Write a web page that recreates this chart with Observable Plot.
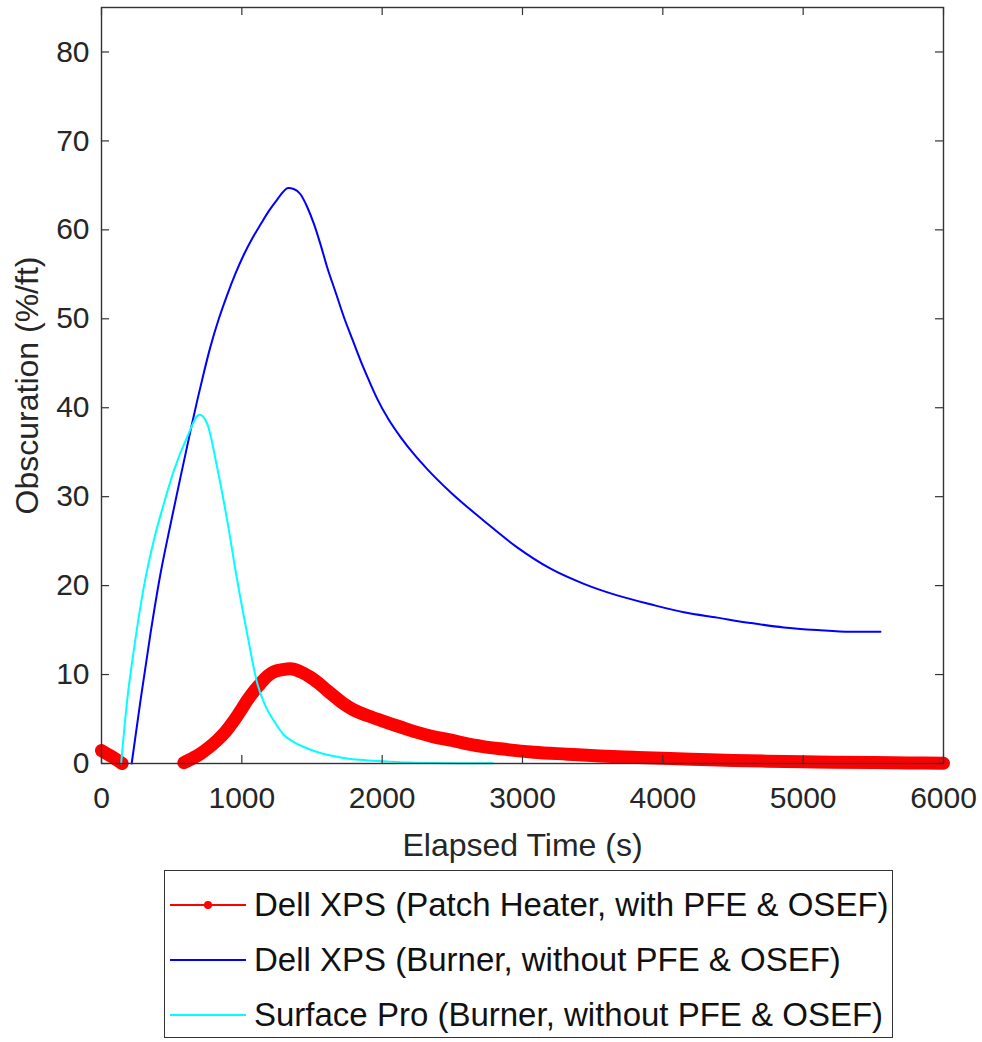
<!DOCTYPE html>
<html>
<head>
<meta charset="utf-8">
<script src="https://cdn.jsdelivr.net/npm/d3@7"></script>
<script src="https://cdn.jsdelivr.net/npm/@observablehq/plot@0.6"></script>
<style>
  body { margin: 0; background: #fff; font-family: "Liberation Sans", Arial, Helvetica, sans-serif; }
  #chart { position: absolute; left: 0; top: 0; }
  #legend { position: absolute; left: 164px; top: 870px; width: 729px; height: 168px;
            border: 1.5px solid #333; box-sizing: border-box; background: #fff; }
  .row { position: absolute; left: 0; height: 50px; display: flex; align-items: center;
         font-size: 33px; color: #111; white-space: nowrap; }
  .row svg { margin-left: 5px; margin-right: 8px; }
</style>
</head>
<body>
<div id="chart"></div>
<div id="legend"></div>
<script>
// ---- data ----
const seriesNames = [
  "Dell XPS (Patch Heater, with PFE & OSEF)",
  "Dell XPS (Burner, without PFE & OSEF)",
  "Surface Pro (Burner, without PFE & OSEF)"
];
const seriesColors = ["#ff0000", "#0000ff", "#00ffff"];

// Dell XPS, patch heater (two recorded segments)
const redTime = [0, 75, 147,
  587, 650, 705, 765, 824, 885, 943, 990, 1038, 1085, 1133, 1180, 1228, 1290, 1347, 1420, 1489, 1550,
  1608, 1670, 1727, 1800, 1893, 2000, 2131, 2250, 2368, 2500, 2606, 2720, 2843, 3081, 3319, 3550,
  3793, 4000, 4268, 4500, 4744, 5000, 5218, 5500, 5750, 6000];
const redObs = [1.45, 0.75, 0.0,
  0.1, 0.6, 1.1, 1.8, 2.6, 3.6, 4.8, 5.9, 7.1, 8.1, 9.0, 9.8, 10.3, 10.55, 10.65, 10.3, 9.7, 9.0,
  8.2, 7.4, 6.7, 6.0, 5.4, 4.8, 4.1, 3.5, 3.0, 2.6, 2.2, 1.9, 1.65, 1.27, 1.05, 0.85,
  0.7, 0.58, 0.45, 0.35, 0.26, 0.2, 0.15, 0.1, 0.06, 0.03];
const redSegment = [0, 0, 0,
  1, 1, 1, 1, 1, 1, 1, 1, 1, 1, 1, 1, 1, 1, 1, 1, 1, 1,
  1, 1, 1, 1, 1, 1, 1, 1, 1, 1, 1, 1, 1, 1, 1, 1,
  1, 1, 1, 1, 1, 1, 1, 1, 1, 1];

// Dell XPS, burner
const blueTime = [215, 278, 349, 420, 492, 563, 634, 682, 730, 777, 836, 896, 955, 1014, 1073, 1133, 1192,
  1252, 1290, 1330, 1370, 1418, 1465, 1513, 1560, 1608, 1670, 1727, 1790, 1846, 1905, 1965, 2045, 2131,
  2225, 2321, 2487, 2724, 2962, 3200, 3437, 3675, 3912, 4150, 4387, 4625, 4862, 5100, 5337, 5551];
const blueObs = [0, 7.1, 14.6, 21.3, 26.9, 32.2, 37.4, 40.8, 44.0, 46.9, 50.0, 52.7, 55.1, 57.2, 59.0, 60.6, 62.1,
  63.4, 64.2, 64.7, 64.6, 64.0, 62.6, 60.7, 58.4, 55.8, 52.9, 50.2, 47.6, 45.3, 43.1, 41.0, 38.7, 36.7,
  34.8, 33.1, 30.5, 27.3, 24.3, 21.9, 20.2, 18.9, 17.9, 17.0, 16.4, 15.8, 15.3, 15.0, 14.8, 14.8];

// Surface Pro, burner
const cyanTime = [140, 183, 230, 301, 373, 444, 515, 610, 698, 753, 824, 896, 967, 1038, 1110, 1170, 1228,
  1300, 1370, 1450, 1537, 1650, 1774, 1900, 2012, 2200, 2368, 2600, 2790];
const cyanObs = [0, 7.1, 12.7, 19.8, 25.1, 29.2, 32.9, 36.7, 39.2, 38.2, 33.3, 27.3, 20.6, 14.6, 9.0, 6.4, 4.8,
  3.2, 2.4, 1.8, 1.3, 0.85, 0.5, 0.35, 0.25, 0.1, 0.05, 0.03, 0.03];

const xTicks = [0, 1000, 2000, 3000, 4000, 5000, 6000];
const yTicks = [0, 10, 20, 30, 40, 50, 60, 70, 80];
const xLabel = "Elapsed Time (s)";
const yLabel = "Obscuration (%/ft)";

// ---- build tables ----
const red = redTime.map((t, i) => ({t, v: redObs[i], seg: redSegment[i]}));
const blue = blueTime.map((t, i) => ({t, v: blueObs[i]}));
const cyan = cyanTime.map((t, i) => ({t, v: cyanObs[i]}));

const W = 982, H = 866;
const mL = 101, mR = 39, mT = 7, mB = 103;
const innerW = W - mL - mR, innerH = H - mT - mB;
const tickLen = 8;
const axisColor = "#333";
const font = '"Liberation Sans", Arial, Helvetica, sans-serif';

const chart = Plot.plot({
  width: W, height: H,
  marginLeft: mL, marginRight: mR, marginTop: mT, marginBottom: mB,
  style: {fontFamily: font, fontSize: "30px", color: "#262626", background: "#fff"},
  x: {domain: [0, 6000]},
  y: {domain: [0, 85]},
  marks: [
    Plot.line(red, {x: "t", y: "v", z: "seg", stroke: seriesColors[0], strokeWidth: 13, strokeLinecap: "round", strokeLinejoin: "round", curve: "monotone-x"}),
    Plot.line(blue, {x: "t", y: "v", stroke: seriesColors[1], strokeWidth: 2, curve: "monotone-x"}),
    Plot.line(cyan, {x: "t", y: "v", stroke: seriesColors[2], strokeWidth: 2, curve: "monotone-x"}),
    Plot.frame({stroke: axisColor, strokeWidth: 1.4}),
    Plot.tickX(xTicks, {x: d => d, insetTop: innerH - tickLen, stroke: axisColor, strokeWidth: 1.2}),
    Plot.tickX(xTicks, {x: d => d, insetBottom: innerH - tickLen, stroke: axisColor, strokeWidth: 1.2}),
    Plot.tickY(yTicks, {y: d => d, insetRight: innerW - tickLen, stroke: axisColor, strokeWidth: 1.2}),
    Plot.tickY(yTicks, {y: d => d, insetLeft: innerW - tickLen, stroke: axisColor, strokeWidth: 1.2}),
    Plot.axisX({ticks: xTicks, tickFormat: d => String(d), tickSize: 0, tickPadding: 23, fontSize: 30, label: null}),
    Plot.axisX({ticks: [], label: xLabel, labelAnchor: "center", labelArrow: "none", labelOffset: 92, fontSize: 32}),
    Plot.axisY({ticks: yTicks, tickFormat: d => String(d), tickSize: 0, tickPadding: 12, fontSize: 30, label: null}),
    Plot.axisY({ticks: [], label: yLabel, labelAnchor: "center", labelArrow: "none", labelOffset: 86, fontSize: 32})
  ]
});
document.getElementById("chart").appendChild(chart);

// ---- legend ----
const legend = document.getElementById("legend");
const rowTops = [9, 64, 119];
seriesNames.forEach((name, i) => {
  const row = document.createElement("div");
  row.className = "row";
  row.style.top = rowTops[i] + "px";
  const marker = i === 0 ? `<circle cx="38" cy="10" r="4" fill="${seriesColors[i]}"/>` : "";
  row.innerHTML = `<svg width="76" height="20"><line x1="0" y1="10" x2="76" y2="10" stroke="${seriesColors[i]}" stroke-width="2"/>${marker}</svg><span>${name}</span>`;
  legend.appendChild(row);
});
</script>
</body>
</html>
